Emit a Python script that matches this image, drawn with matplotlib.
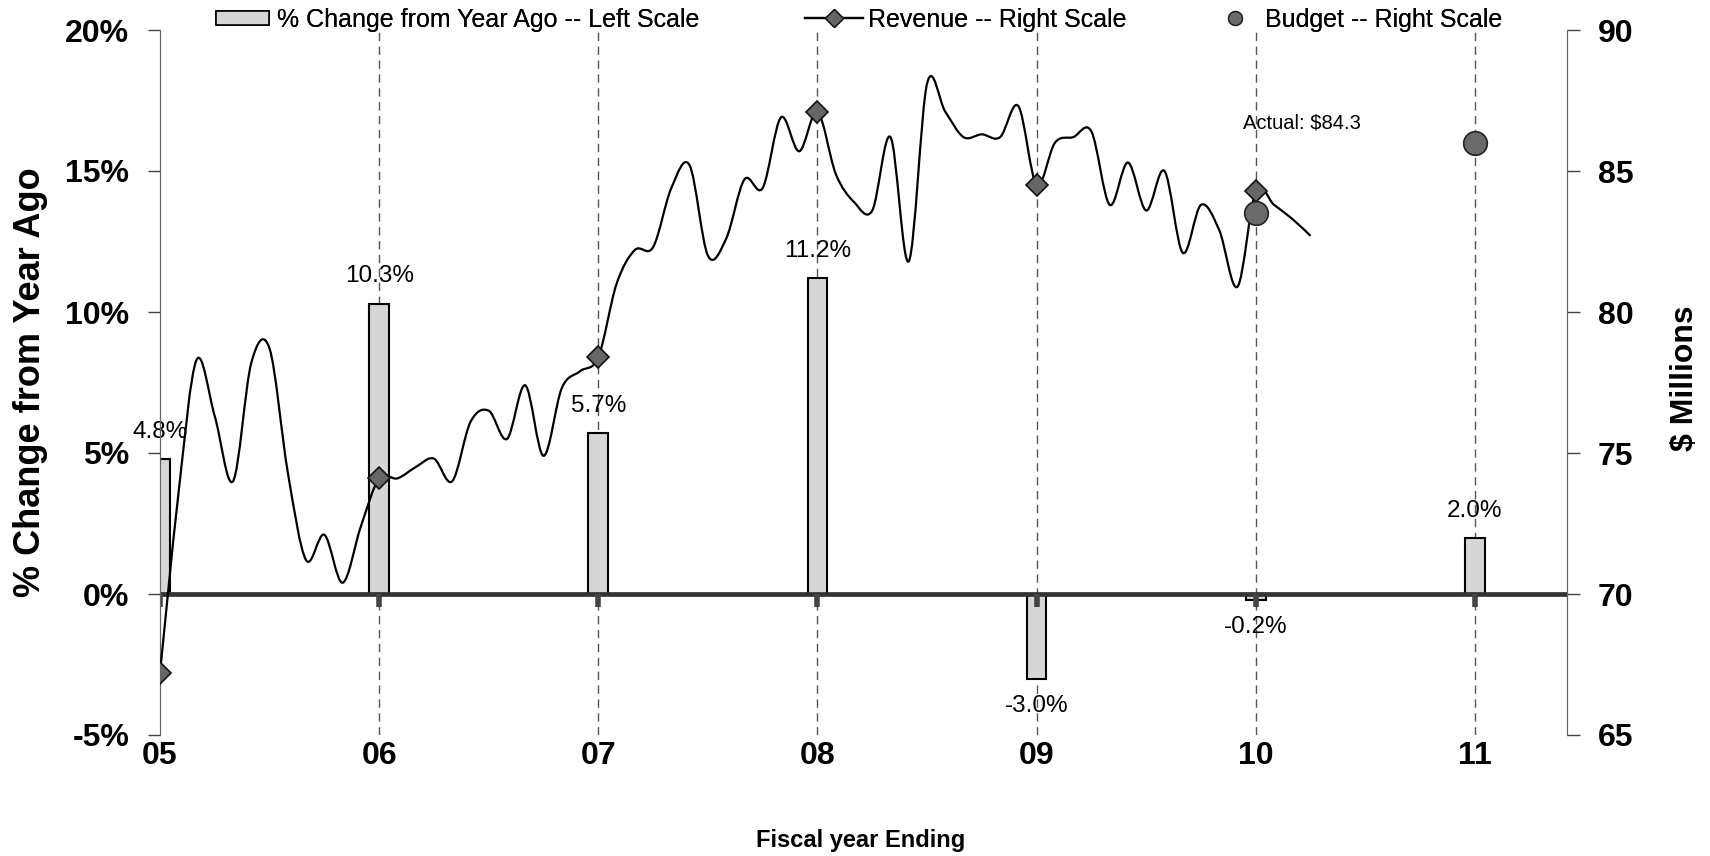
import numpy as np
import matplotlib
matplotlib.use("Agg")
import matplotlib.pyplot as plt
from matplotlib.path import Path
from matplotlib.patches import PathPatch, Rectangle
from matplotlib.lines import Line2D

plt.rcParams['font.family'] = ['Liberation Sans', 'DejaVu Sans']

# fiscal years (bars / annual markers)
year_labels = ['05', '06', '07', '08', '09', '10', '11']
pct_change = [4.8, 10.3, 5.7, 11.2, -3.0, -0.2, 2.0]

# monthly revenue, $ millions, FY05 through early FY10
revenue = [67.2, 73.5, 78.3, 76.3, 74.0, 78.2, 78.7, 74.3, 71.2, 72.1, 70.4, 72.4,
           74.1, 74.1, 74.5, 74.8, 74.0, 76.1, 76.5, 75.5, 77.4, 74.9, 77.3, 77.9,
           78.4, 81.0, 82.2, 82.3, 84.4, 85.2, 82.0, 82.6, 84.7, 84.4, 86.9, 85.7,
           87.1, 84.9, 83.9, 83.6, 86.2, 81.8, 88.1, 87.1, 86.2, 86.3, 86.2, 87.3,
           84.5, 86.0, 86.2, 86.4, 83.8, 85.3, 83.6, 85.0, 82.1, 83.8, 82.9, 80.9,
           84.3, 83.8, 83.3, 82.7]

budget_years = ['10', '11']
budget = [83.5, 86.0]

W, H = 1710, 856
fig = plt.figure(figsize=(W / 100, H / 100), dpi=100)
ax = fig.add_axes([160 / W, 1 - 735 / H, (1567 - 160) / W, (735 - 30) / H])
ax2 = ax.twinx()

xpos = np.arange(len(year_labels))
ax.set_xlim(0, 6.42)
ax.set_ylim(-5, 20)
ax2.set_ylim(65, 90)

# dashed year markers
for xv in xpos[1:]:
    ax.axvline(xv, color='#555555', lw=1, ls=(0, (6, 4)), zorder=0)

bars = ax.bar(xpos, pct_change, width=0.09, color='#d6d6d6',
              edgecolor='black', linewidth=1.5, zorder=2)
for xv, v in zip(xpos, pct_change):
    off = 19.5 if v >= 0 else -19.5
    ax.annotate(f'{v:.1f}%', (xv, v), xytext=(0, off), textcoords='offset points',
                ha='center', va='center', fontsize=17.5, zorder=5)

# zero line doubles as the category axis
ax.axhline(0, color='#333333', lw=3.4, zorder=3)
ax.vlines(xpos, -0.45, 0, color='#444444', lw=4, zorder=3)

# revenue: smoothed curve through the monthly points
mx = np.arange(len(revenue)) / 12.0
my = np.array(revenue)
verts = [(mx[0], my[0])]
codes = [Path.MOVETO]
n = len(mx)
for i in range(n - 1):
    a = max(i - 1, 0)
    b = min(i + 2, n - 1)
    c1 = (mx[i] + (mx[i + 1] - mx[a]) / 6, my[i] + (my[i + 1] - my[a]) / 6)
    c2 = (mx[i + 1] - (mx[b] - mx[i]) / 6, my[i + 1] - (my[b] - my[i]) / 6)
    verts += [c1, c2, (mx[i + 1], my[i + 1])]
    codes += [Path.CURVE4] * 3
ax2.add_patch(PathPatch(Path(verts, codes), fill=False, edgecolor='black', lw=1.6, zorder=4))

ax2.plot(mx[::12], my[::12], ls='none', marker='D', ms=11, mfc='#666666',
         mec='#111111', mew=1.2, zorder=6)
bx = [year_labels.index(y) for y in budget_years]
ax2.plot(bx, budget, ls='none', marker='o', ms=17, mfc='#6a6a6a',
         mec='#222222', mew=1.2, zorder=6)
ax2.annotate(f'Actual: ${revenue[60]:.1f}', (mx[60], revenue[60]), xytext=(-9.5, 49),
             textcoords='offset points', ha='left', va='center', fontsize=14.5)

# axes styling
ax.set_yticks([-5, 0, 5, 10, 15, 20])
ax.set_yticklabels([f'{v}%' for v in [-5, 0, 5, 10, 15, 20]])
ax2.set_yticks([65, 70, 75, 80, 85, 90])
ax.set_xticks(xpos)
ax.set_xticklabels(year_labels)
for a in (ax, ax2):
    for s in ('top', 'bottom'):
        a.spines[s].set_visible(False)
    a.spines['left'].set_color('#666666')
    a.spines['right'].set_color('#666666')
ax.tick_params(axis='y', length=9, width=1, color='#444444', pad=13,
               labelsize=23)
ax2.tick_params(axis='y', length=9, width=1, color='#444444', pad=13,
                labelsize=23)
ax.tick_params(axis='x', length=0, pad=4, labelsize=23)
for lbl in ax.get_yticklabels() + ax2.get_yticklabels() + ax.get_xticklabels():
    lbl.set_fontweight('bold')

fig.text(31 / W, 0.5 * ((1 - 30 / H) + (1 - 735 / H)), '% Change from Year Ago',
         rotation=90, ha='center', va='center', fontsize=26, fontweight='bold')
fig.text(1685 / W, 1 - 378 / H, '$ Millions', rotation=90, ha='center',
         va='center', fontsize=23, fontweight='bold')
fig.text(861 / W, 1 - 840 / H, 'Fiscal year Ending', ha='center', va='center',
         fontsize=17, fontweight='bold')

# legend entries across the top
h_bar = Rectangle((0, 0), 1, 1, facecolor='#d6d6d6', edgecolor='black', lw=1.2)
h_rev = Line2D([], [], color='black', lw=1.6, marker='D', ms=9, mfc='#666666', mec='#111111')
h_bud = Line2D([], [], ls='none', marker='o', ms=10, mfc='#6a6a6a', mec='#222222')
specs = [(h_bar, '% Change from Year Ago -- Left Scale', 216, 2.1, 0.35, 0.45),
         (h_rev, 'Revenue -- Right Scale', 805, 2.3, 0.2, 0.7),
         (h_bud, 'Budget -- Right Scale', 1222, 1.0, 0.7, 0.7)]
for h, txt, x0, hl, tp, hh in specs:
    leg = fig.legend([h], [txt], loc='center left', bbox_to_anchor=(x0 / W, 1 - 20 / H),
                     frameon=False, fontsize=18, handlelength=hl, handletextpad=tp,
                     handleheight=hh, borderpad=0, borderaxespad=0)
    fig.add_artist(leg)

fig.savefig('out.png', dpi=100)
